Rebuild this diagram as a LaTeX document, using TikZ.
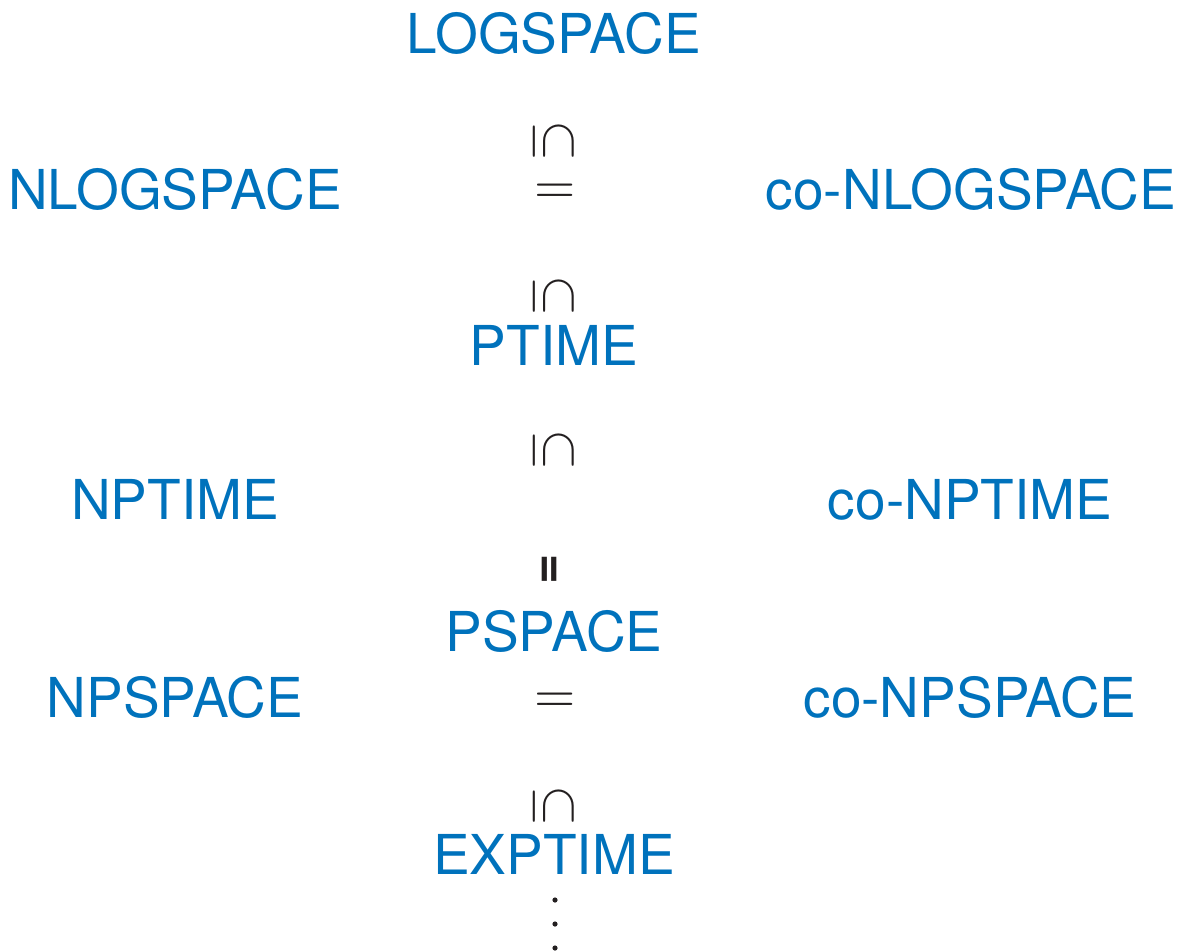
\documentclass[tikz,border=0pt]{standalone}
\usepackage{fontspec}
\setmainfont{TeX Gyre Heros}
\usepackage{graphicx}
\definecolor{cblue}{RGB}{0,114,188}
\definecolor{sym}{RGB}{35,31,32}
\newcommand{\subrot}{\scalebox{5.3}{\rotatebox{-90}{$\subseteq$}}}
\newcommand{\eqh}{\scalebox{5.3}{$=$}}
\newcommand{\eqv}{\rotatebox{90}{\fontsize{52}{60}\selectfont\bfseries =}}
\begin{document}
\begin{tikzpicture}[x=1pt,y=-1pt,
  cls/.style={text=cblue,font=\fontsize{55}{62}\selectfont,inner sep=0pt,anchor=base},
  rel/.style={text=sym,inner sep=0pt}]
\useasboundingbox (0,0) rectangle (1182,951);
\node[cls] (log) at (554,53) {LOGSPACE};
\node[cls] (nlog) at (175,209) {NLOGSPACE};
\node[cls] (conlog) at (971,209) {co-NLOGSPACE};
\node[cls] (ptime) at (554,365) {PTIME};
\node[cls] (np) at (175,519) {NPTIME};
\node[cls] (conp) at (970,519) {co-NPTIME};
\node[cls] (pspace) at (554,651) {PSPACE};
\node[cls] (npspace) at (175,717) {NPSPACE};
\node[cls] (conpspace) at (970,717) {co-NPSPACE};
\node[cls] (exptime) at (554,874) {EXPTIME};
\node[rel] (s1) at (554,141) {\subrot};
\node[rel] (e1) at (555,194) {\eqh};
\node[rel] (s2) at (554,296) {\subrot};
\node[rel] (s3) at (554,450) {\subrot};
\node[rel] (e2) at (552,569) {\eqv};
\node[rel] (e3) at (555,703) {\eqh};
\node[rel] (s4) at (554,806) {\subrot};
\foreach \y [count=\i] in {900,924,948}
  \fill[sym] (555,\y) coordinate (d\i) circle (2.6);
\end{tikzpicture}
\end{document}
